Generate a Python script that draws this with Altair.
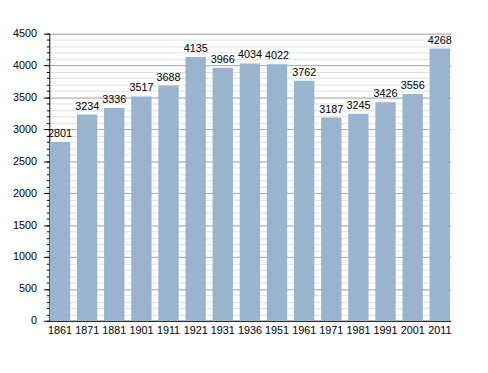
import altair as alt
import pandas as pd

years = ["1861", "1871", "1881", "1901", "1911", "1921", "1931", "1936", "1951",
         "1961", "1971", "1981", "1991", "2001", "2011"]
population = [2801, 3234, 3336, 3517, 3688, 4135, 3966, 4034, 4022, 3762,
              3187, 3245, 3426, 3556, 4268]

df = pd.DataFrame({"year": years, "pop": population})

minor_vals = list(range(0, 4501, 100))
major_vals = list(range(0, 4501, 500))

FONT = "Liberation Sans"

x = alt.X("year:N", sort=None, title=None,
          scale=alt.Scale(paddingInner=0.25, paddingOuter=0.02),
          axis=alt.Axis(labelAngle=0, ticks=False, grid=False, labelPadding=4,
                        labelFontSize=11, labelFont=FONT, labelColor="#000",
                        domainColor="#000"))

minor = alt.Chart(df).mark_bar(opacity=0).encode(
    x=x,
    y=alt.Y("pop:Q", title=None,
            scale=alt.Scale(domain=[0, 4500], nice=False),
            axis=alt.Axis(orient="left", values=minor_vals, labels=False, tickSize=3,
                          grid=True, tickColor="#000", gridColor="#e0e0e0",
                          gridWidth=1, domain=False)),
)

major = alt.Chart(df).mark_bar(color="#9ab3ce").encode(
    x=x,
    y=alt.Y("pop:Q", title=None,
            scale=alt.Scale(domain=[0, 4500], nice=False),
            axis=alt.Axis(orient="left", values=major_vals, format="d", tickSize=6,
                          grid=True, tickColor="#000", gridColor="#aaaaaa",
                          gridWidth=1, labelPadding=7, labelFontSize=11,
                          labelFont=FONT, labelColor="#000", domainColor="#000")),
)

text = alt.Chart(df).mark_text(baseline="bottom", dy=-3, fontSize=11, font=FONT,
                               color="#000").encode(
    x=x,
    y=alt.Y("pop:Q", scale=alt.Scale(domain=[0, 4500], nice=False), axis=None),
    text=alt.Text("pop:Q", format="d"),
)

chart = alt.layer(minor, major, text).resolve_axis(y="independent").properties(
    width=408, height=292,
    autosize=alt.AutoSizeParams(type="none"),
    padding={"left": 42, "top": 23, "right": 30, "bottom": 50},
).configure_view(stroke=None)

chart.save("out.html", embed_options={"renderer": "svg", "actions": False})
